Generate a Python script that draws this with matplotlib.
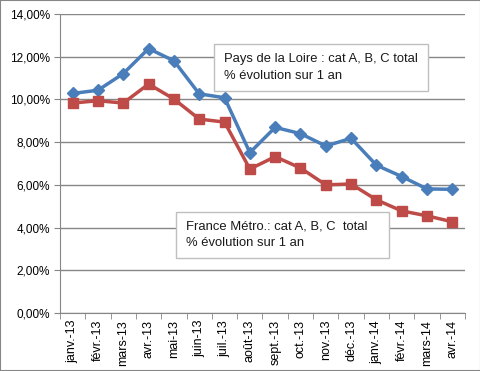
import matplotlib.pyplot as plt
from matplotlib.ticker import FuncFormatter, FixedLocator
from matplotlib.patches import Rectangle

# Data
months = ["janv.-13", "févr.-13", "mars-13", "avr.-13", "mai-13", "juin-13",
          "juil.-13", "août-13", "sept.-13", "oct.-13", "nov.-13", "déc.-13",
          "janv.-14", "févr.-14", "mars-14", "avr.-14"]
pays_loire = [10.28, 10.43, 11.21, 12.38, 11.81, 10.26, 10.08, 7.51,
              8.69, 8.40, 7.82, 8.18, 6.92, 6.39, 5.81, 5.79]
france_metro = [9.83, 9.94, 9.83, 10.72, 10.02, 9.08, 8.94, 6.74,
                7.32, 6.79, 6.00, 6.04, 5.30, 4.78, 4.55, 4.27]
label_loire = "Pays de la Loire : cat A, B, C total\n% évolution sur 1 an"
label_france = "France Métro.: cat A, B, C  total\n% évolution sur 1 an"

plt.rcParams['font.family'] = ['Liberation Sans', 'DejaVu Sans']

W, H = 481, 371
fig = plt.figure(figsize=(W / 100, H / 100), dpi=100)
fig.patches.append(Rectangle((0, 0), 1, 1, transform=fig.transFigure,
                             fill=False, edgecolor='#868686', linewidth=1.5))
ax = fig.add_axes([60 / W, 1 - 313 / H, 405 / W, 299 / H])

x = list(range(len(months)))
ax.plot(x, pays_loire, color='#4A7EBB', linewidth=2.5, marker='D',
        markersize=6.5, zorder=3)
ax.plot(x, france_metro, color='#BE4B48', linewidth=2.5, marker='s',
        markersize=7.5, zorder=3)

ax.set_xlim(-0.5, len(months) - 0.5)
ax.set_ylim(0, 14)
ax.set_yticks(range(0, 15, 2))
ax.yaxis.set_major_formatter(FuncFormatter(lambda v, p: f"{v:.2f}%".replace('.', ',')))
ax.grid(axis='y', color='#868686', linewidth=1)
ax.set_axisbelow(True)

ax.set_xticks(x)
ax.set_xticklabels(months, rotation=90, fontsize=9)
ax.xaxis.set_minor_locator(FixedLocator([i - 0.5 for i in range(len(months) + 1)]))
ax.tick_params(axis='x', which='major', length=0, pad=5)
ax.tick_params(axis='x', which='minor', length=4, color='#868686')
ax.tick_params(axis='y', length=4, color='#868686', labelsize=8.5, pad=3)

for s in ['top', 'right']:
    ax.spines[s].set_visible(False)
for s in ['left', 'bottom']:
    ax.spines[s].set_color('#868686')


def label_box(x0, y0, x1, y1, text):
    # box drawn in pixel coordinates from the top-left corner
    fig.patches.append(Rectangle((x0 / W, 1 - y1 / H), (x1 - x0) / W, (y1 - y0) / H,
                                 transform=fig.transFigure, facecolor='white',
                                 edgecolor='#BFBFBF', linewidth=1, zorder=5))
    fig.text((x0 + 10) / W, 1 - (y0 + y1) / 2 / H, text, fontsize=9.4,
             va='center', ha='left', linespacing=1.45, color='#1A1A1A', zorder=6)


label_box(214, 44, 428, 91, label_loire)
label_box(176, 212, 389, 258, label_france)

fig.savefig('out.png', dpi=100)
